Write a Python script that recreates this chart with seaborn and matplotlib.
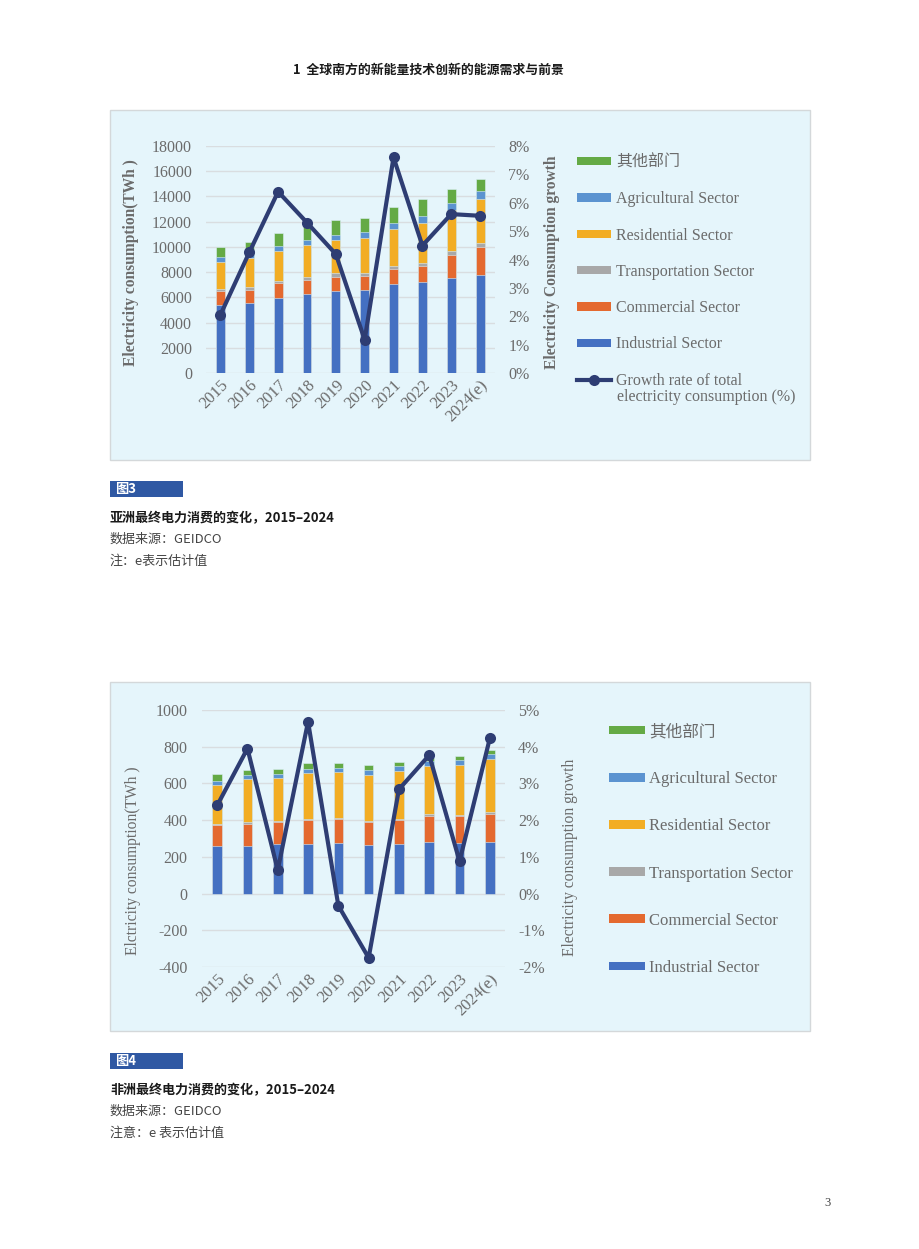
import numpy as np
import matplotlib
matplotlib.use("Agg")
import matplotlib.pyplot as plt
import seaborn as sns
from matplotlib.patches import Patch, Rectangle
from matplotlib.lines import Line2D
from matplotlib.ticker import FuncFormatter, MultipleLocator

# --- data ---
years = ["2015", "2016", "2017", "2018", "2019", "2020", "2021", "2022", "2023", "2024(e)"]
sectors = ["Industrial Sector", "Commercial Sector", "Transportation Sector",
           "Residential Sector", "Agricultural Sector", "其他部门"]

# Asia (TWh)
asia_industrial = [5410, 5540, 5910, 6230, 6470, 6550, 7070, 7180, 7570, 7810]
asia_commercial = [1060, 1060, 1190, 1160, 1180, 1130, 1190, 1340, 1820, 2190]
asia_transport = [180, 210, 160, 240, 260, 210, 260, 240, 290, 320]
asia_residential = [2140, 2270, 2430, 2530, 2610, 2820, 2900, 3140, 3250, 3460]
asia_agricultural = [370, 370, 420, 420, 420, 450, 500, 550, 580, 630]
asia_other = [820, 920, 980, 1290, 1190, 1110, 1270, 1350, 1060, 980]
asia_growth = [2.05, 4.25, 6.39, 5.30, 4.19, 1.17, 7.60, 4.49, 5.60, 5.54]

# Africa (TWh)
africa_industrial = [261, 259, 268, 272, 276, 267, 270, 281, 276, 281]
africa_commercial = [113, 122, 122, 127, 130, 123, 129, 142, 145, 154]
africa_transport = [7, 7, 7, 9, 7, 7, 5, 9, 5, 9]
africa_residential = [210, 234, 230, 247, 251, 250, 263, 264, 276, 287]
africa_agricultural = [22, 24, 26, 23, 22, 28, 26, 26, 27, 29]
africa_other = [36, 29, 27, 35, 23, 23, 25, 18, 22, 23]
africa_growth = [2.40, 3.95, 0.64, 4.68, -0.33, -1.75, 2.84, 3.77, 0.88, 4.23]

colors = ["#4470c2", "#e4692f", "#a8a8a8", "#f2ad24", "#5b93d0", "#64aa45"]
navy = "#2e3d73"
grey_txt = "#6b6b6b"
panel_bg = "#e5f5fb"

plt.rcParams["font.family"] = ["Liberation Serif", "Noto Sans CJK SC"]
plt.rcParams["axes.unicode_minus"] = False
cjk = ["Noto Sans CJK SC", "DejaVu Sans"]
serif_cjk = ["Liberation Serif", "Noto Sans CJK SC"]

W, H = 920, 1249
fig = plt.figure(figsize=(W / 100, H / 100), dpi=100)


def fx(x):
    return x / W


def fy(y):
    return 1 - y / H


def draw_chart(rect, layers, growth, ylim, ystep, gylim, bar_w, lab_left, lab_right,
               bold_lab, ylab_pos, pads):
    left, top, right, bottom = rect
    ax = fig.add_axes([fx(left), fy(bottom), (right - left) / W, (bottom - top) / H])
    ax.patch.set_visible(False)
    # stacked bars: draw cumulative totals from top layer down
    cum = np.cumsum(np.array(layers), axis=0)
    for i in reversed(range(len(layers))):
        sns.barplot(x=years, y=cum[i], color=colors[i], width=bar_w, saturation=1,
                    errorbar=None, ax=ax, edgecolor="#dbeef6", linewidth=0.4)
    ax.set_xlim(-0.5, 9.5)
    ax.set_ylim(*ylim)
    ax.yaxis.set_major_locator(MultipleLocator(ystep))
    ax.yaxis.grid(True, color="#d9dde0", lw=1)
    ax.set_axisbelow(True)
    ax.set_xlabel("")
    ax.set_ylabel("")
    ax.tick_params(axis="both", length=0, labelcolor=grey_txt)
    ax.tick_params(axis="y", pad=pads[0], labelsize=11.5)
    ax.tick_params(axis="x", pad=3, labelsize=12)
    for lab in ax.get_xticklabels():
        lab.set_rotation(45)
        lab.set_ha("right")
        lab.set_rotation_mode("anchor")
    for s in ax.spines.values():
        s.set_visible(False)

    ax2 = ax.twinx()
    sns.lineplot(x=np.arange(len(years)), y=growth, ax=ax2, color=navy, lw=3,
                 marker="o", markersize=8, markeredgewidth=0)
    ax2.set_ylim(*gylim)
    ax2.yaxis.set_major_locator(MultipleLocator(1))
    ax2.yaxis.set_major_formatter(FuncFormatter(lambda v, _: f"{v:.0f}%"))
    ax2.tick_params(axis="y", length=0, labelsize=11.5, labelcolor=grey_txt, pad=pads[1])
    ax2.set_ylabel("")
    for s in ax2.spines.values():
        s.set_visible(False)

    weight = "bold" if bold_lab else "normal"
    (lx, ly), (rx, ry) = ylab_pos
    fig.text(fx(lx), fy(ly), lab_left, rotation=90, ha="center", va="center",
             fontsize=11.2, color=grey_txt, fontweight=weight, family="Liberation Serif")
    fig.text(fx(rx), fy(ry), lab_right, rotation=90, ha="center", va="center",
             fontsize=11.2, color=grey_txt, fontweight=weight, family="Liberation Serif")
    return ax, ax2


def legend_handles(with_line):
    hs = [Patch(facecolor=colors[i], edgecolor="none") for i in reversed(range(6))]
    ls = list(reversed(sectors))
    if with_line:
        hs.append(Line2D([0], [0], color=navy, lw=3, marker="o", markersize=8, markeredgewidth=0))
        ls.append("Growth rate of total")
    return hs, ls


# panel backgrounds
for (y0, y1) in [(110, 460), (682, 1031)]:
    fig.patches.append(Rectangle((fx(110), fy(y1)), 700 / W, (y1 - y0) / H,
                                 transform=fig.transFigure, facecolor=panel_bg,
                                 edgecolor="#d4d8da", lw=1, zorder=-5))

# --- Asia chart ---
asia_layers = [asia_industrial, asia_commercial, asia_transport,
               asia_residential, asia_agricultural, asia_other]
draw_chart((206, 146, 494.5, 373), asia_layers, asia_growth, (0, 18000), 2000, (0, 8), 0.31,
           "Electricity consumption(TWh )", "Electricity Consumption growth", True,
           ((131, 263), (552, 262)), (10, 10))
hs, ls = legend_handles(True)
fig.legend(hs, ls, loc="upper left", bbox_to_anchor=(fx(577), fy(155)), frameon=False,
           prop={"family": serif_cjk, "size": 11.5}, labelcolor=grey_txt,
           handlelength=2.15, handleheight=0.42, handletextpad=0.3,
           labelspacing=1.27, borderpad=0, borderaxespad=0)
fig.text(fx(617), fy(397), "electricity consumption (%)", ha="left", va="center",
         fontsize=11.5, color=grey_txt, family="Liberation Serif")

# --- Africa chart ---
africa_layers = [africa_industrial, africa_commercial, africa_transport,
                 africa_residential, africa_agricultural, africa_other]
draw_chart((202, 710, 505, 967), africa_layers, africa_growth, (-400, 1000), 200, (-2, 5), 0.32,
           "Elctricity consumption(TWh )", "Electricity consumption growth", False,
           ((133, 861), (570, 857)), (10.5, 9.5))
hs, ls = legend_handles(False)
fig.legend(hs, ls, loc="upper left", bbox_to_anchor=(fx(609), fy(724)), frameon=False,
           prop={"family": serif_cjk, "size": 12}, labelcolor=grey_txt,
           handlelength=2.15, handleheight=0.42, handletextpad=0.25,
           labelspacing=1.87, borderpad=0, borderaxespad=0)

# --- page texts ---
fig.text(fx(428), fy(70), "1  全球南方的新能量技术创新的能源需求与前景", ha="center", va="center",
         fontsize=9.3, fontweight="bold", family=cjk, color="#1a1a1a")

for (y_tag, num, title, note) in [(489, "3", "亚洲最终电力消费的变化，2015–2024", "注：e表示估计值"),
                                  (1061, "4", "非洲最终电力消费的变化，2015–2024", "注意：e 表示估计值")]:
    fig.patches.append(Rectangle((fx(110), fy(y_tag + 8)), 73 / W, 16 / H,
                                 transform=fig.transFigure, facecolor="#2f58a3",
                                 edgecolor="none", zorder=-5))
    fig.text(fx(115), fy(y_tag), "图" + num, ha="left", va="center", fontsize=9.5,
             fontweight="bold", color="white", family=cjk)
    fig.text(fx(110), fy(y_tag + 29), title, ha="left", va="center", fontsize=9.4,
             fontweight="bold", color="#1a1a1a", family=cjk)
    fig.text(fx(110), fy(y_tag + 50), "数据来源：GEIDCO", ha="left", va="center", fontsize=9.4,
             color="#444444", family=cjk)
    fig.text(fx(110), fy(y_tag + 72), note, ha="left", va="center", fontsize=9.4,
             color="#444444", family=cjk)

fig.text(fx(828), fy(1203), "3", ha="center", va="center", fontsize=9,
         color="#444444", family="Liberation Serif")

fig.savefig("out.png", dpi=100, facecolor="white")
